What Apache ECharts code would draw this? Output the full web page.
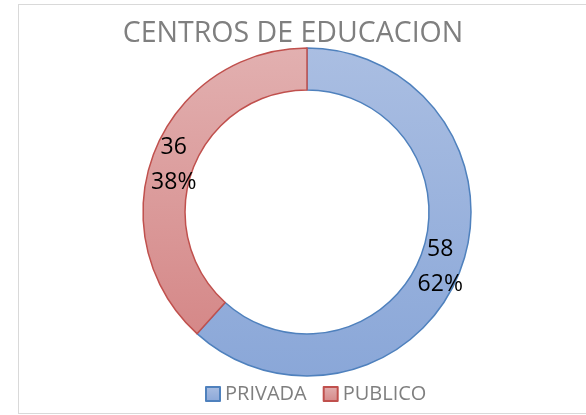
<!DOCTYPE html>
<html>
<head>
<meta charset="utf-8">
<script src="https://cdn.jsdelivr.net/npm/echarts@6/dist/echarts.min.js"></script>
<style>
  html, body { margin: 0; padding: 0; background: #fff; overflow: hidden; width: 586px; height: 415px; }
  #frame { position: absolute; left: 18px; top: 4px; width: 600px; height: 410px; border: 1px solid #d9d9d9; border-right: none; box-sizing: border-box; }
  #chart { position: absolute; left: 0; top: 0; width: 586px; height: 415px; }
</style>
</head>
<body>
<div id="frame"></div>
<div id="chart"></div>
<script>
// School counts by sector
const categories = ['PRIVADA', 'PUBLICO'];
const counts = [58, 36];
const chartTitle = 'CENTROS DE EDUCACION';

const fills = [
  ['#aabee2', '#8aa7d8'],
  ['#e2b0b0', '#d58888']
];
const borders = ['#4f81bd', '#c0504d'];
// small nudges so each value label sits where it reads best on the ring
const labelPads = [[0, 6, 0, 0], [0, 0, 0, 6]];
const labelDrop = [4, 10];

const font = '"Open Sans", "Noto Sans", sans-serif';

function grad(c) {
  return new echarts.graphic.LinearGradient(0, 0, 0, 1, [
    { offset: 0, color: c[0] },
    { offset: 1, color: c[1] }
  ]);
}

const chart = echarts.init(document.getElementById('chart'), null, { renderer: 'canvas' });
chart.setOption({
  animation: false,
  title: {
    text: chartTitle,
    left: 288,
    textAlign: 'center',
    top: 14,
    textStyle: { fontFamily: font, fontSize: 28.5, fontWeight: 'normal', color: '#7f7f7f' }
  },
  legend: {
    bottom: 6,
    left: 200,
    itemWidth: 14,
    itemHeight: 14,
    itemGap: 16,
    icon: 'rect',
    textStyle: { fontFamily: font, fontSize: 20, color: '#7f7f7f' },
    data: categories
  },
  series: [{
    type: 'pie',
    center: [307, 212],
    radius: [122, 164],
    startAngle: 90,
    clockwise: true,
    avoidLabelOverlap: false,
    label: {
      show: true,
      position: 'inside',
      fontFamily: font,
      fontSize: 23,
      lineHeight: 35,
      color: '#000',
      formatter: p => '{s' + p.dataIndex + '| }\n' + p.value + '\n' + Math.round(p.percent) + '%',
      rich: {
        s0: { fontSize: 1, lineHeight: labelDrop[0] },
        s1: { fontSize: 1, lineHeight: labelDrop[1] }
      }
    },
    labelLine: { show: false },
    emphasis: { disabled: true },
    data: categories.map((name, i) => ({
      name: name,
      value: counts[i],
      label: { padding: labelPads[i] },
      itemStyle: { color: grad(fills[i]), borderColor: borders[i], borderWidth: 1.5 }
    }))
  }]
});
</script>
</body>
</html>
